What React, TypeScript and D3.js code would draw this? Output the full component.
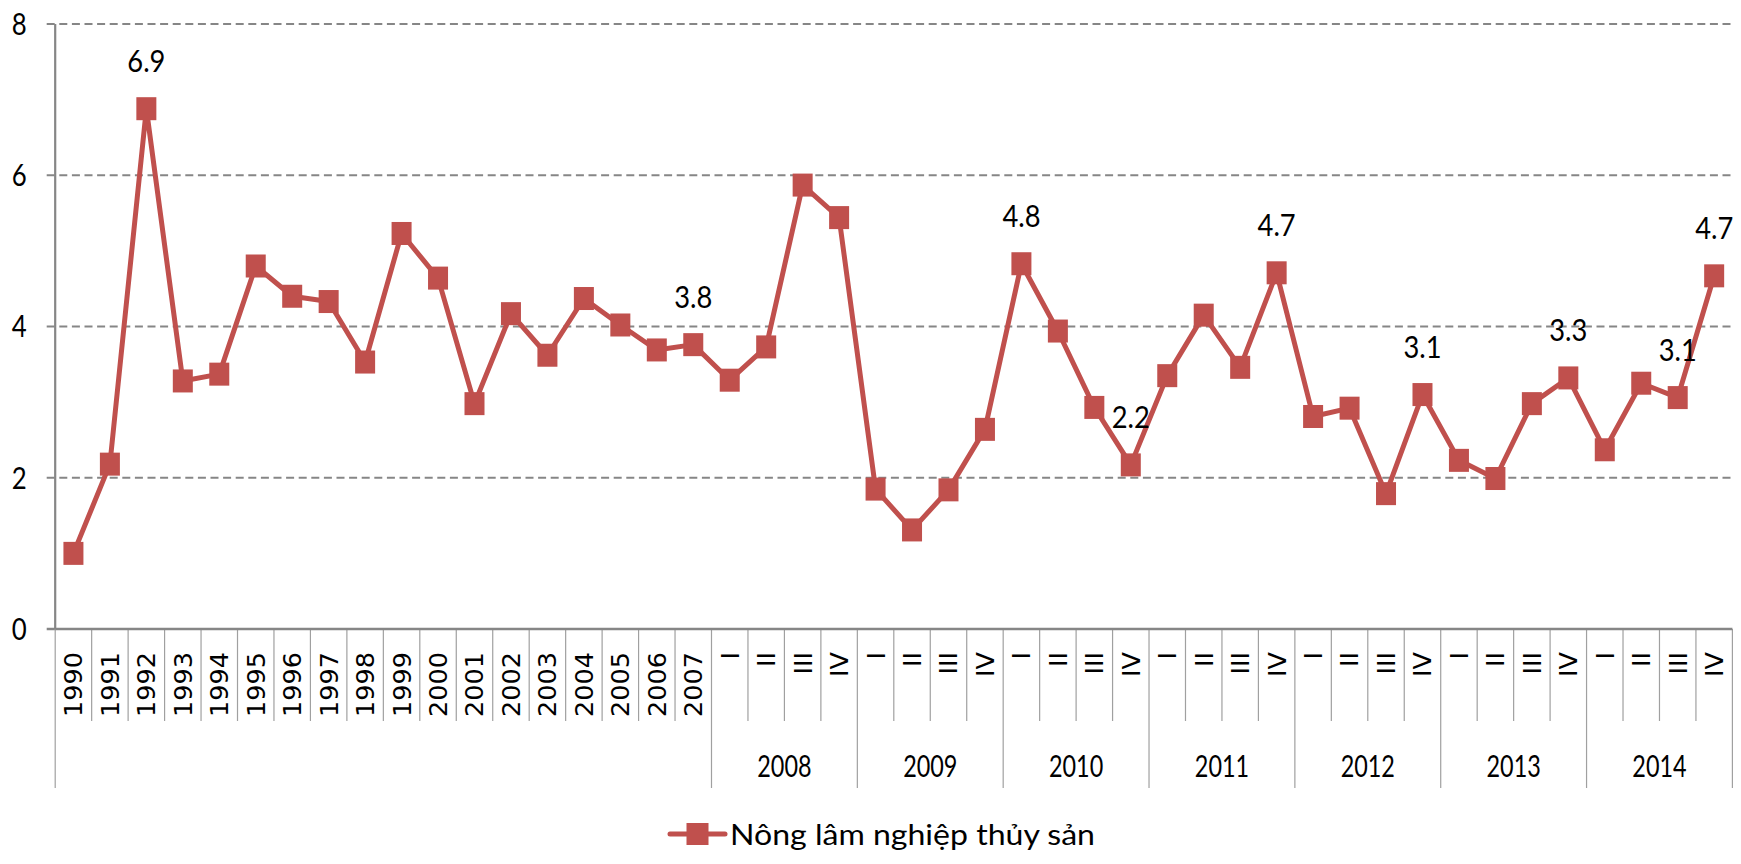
import React from 'react';
import * as d3 from 'd3';

const annualYears = ['1990','1991','1992','1993','1994','1995','1996','1997','1998','1999','2000','2001','2002','2003','2004','2005','2006','2007'];
const quarterYears = ['2008','2009','2010','2011','2012','2013','2014'];
const quarterNames = ['I','II','III','IV'];
const annualValues = [1.00,2.18,6.88,3.28,3.37,4.80,4.40,4.33,3.53,5.23,4.64,2.98,4.17,3.62,4.37,4.02,3.69,3.76];
const quarterlyValues = [
  3.29,3.73,5.87,5.44,
  1.85,1.31,1.84,2.64,
  4.83,3.94,2.93,2.17,
  3.35,4.15,3.46,4.71,
  2.81,2.92,1.79,3.10,
  2.23,1.99,2.98,3.32,
  2.37,3.25,3.06,4.67,
];
const labelledPoints = ['1992','2007','2010 I','2010 IV','2011 IV','2012 IV','2013 IV','2014 III','2014 IV'];
const yTicks = [0,2,4,6,8];
const seriesName = 'Nông lâm nghiệp thủy sản';

const W = 1741, H = 864;
const X0 = 55.2, X1 = 1732.4, Y0 = 629, Y8 = 24;
const COLOR = '#C0504D';
const AXIS = '#868686';
const CF = 'Lato, "Open Sans", sans-serif';

type Cat = { key: string; label: string; group: string | null; value: number };

const cats: Cat[] = [
  ...annualYears.map((y, i) => ({ key: y, label: y, group: null, value: annualValues[i] })),
  ...quarterYears.flatMap((y, yi) =>
    quarterNames.map((q, qi) => ({ key: `${y} ${q}`, label: q, group: y, value: quarterlyValues[yi * 4 + qi] }))
  ),
];

export default function App() {
  const x = d3.scaleBand<string>().domain(cats.map(c => c.key)).range([X0, X1]).padding(0);
  const y = d3.scaleLinear().domain([0, 8]).range([Y0, Y8]);
  const bw = x.bandwidth();
  const cx = (k: string) => (x(k) as number) + bw / 2;
  const line = d3.line<Cat>().x(d => cx(d.key)).y(d => y(d.value));

  const tickTop = Y0;
  const tickInner = 721;
  const tickBottom = 788;

  const boundaries: { x: number; full: boolean }[] = [];
  cats.forEach((c, i) => {
    const left = x(c.key) as number;
    const prev = i > 0 ? cats[i - 1] : null;
    const full = i === 0 || (c.group !== null && (prev === null || prev.group !== c.group));
    boundaries.push({ x: left, full });
  });
  boundaries.push({ x: X1, full: true });

  const groups = quarterYears.map(g => {
    const members = cats.filter(c => c.group === g);
    const a = x(members[0].key) as number;
    const b = (x(members[members.length - 1].key) as number) + bw;
    return { g, cx: (a + b) / 2 };
  });

  const mw = 20, mh = 23;

  return (
    <svg width={W} height={H} style={{ position: 'absolute', left: 0, top: 0, display: 'block', background: '#fff' }}>
      <rect x={0} y={0} width={W} height={H} fill="#fff" />
      {yTicks.filter(t => t > 0).map(t => (
        <line key={t} x1={46.7} x2={X1} y1={y(t)} y2={y(t)} stroke={AXIS} strokeWidth={2} strokeDasharray="8 4.6" />
      ))}
      <line x1={46.7} x2={X0} y1={y(0)} y2={y(0)} stroke={AXIS} strokeWidth={2.5} />
      <line x1={X0} x2={X0} y1={Y8} y2={Y0} stroke={AXIS} strokeWidth={2.2} />
      {yTicks.map(t => (
        <text key={t} transform={`translate(26.7,${y(t)}) scale(0.86,1)`} dy="0.36em" textAnchor="end"
          fontFamily={CF} fontSize={30} fill="#000">{t}</text>
      ))}
      {boundaries.map((b, i) => (
        <line key={i} x1={b.x} x2={b.x} y1={tickTop} y2={b.full ? tickBottom : tickInner} stroke="#A0A0A0" strokeWidth={1.2} />
      ))}
      <line x1={X0} x2={X1} y1={Y0} y2={Y0} stroke={AXIS} strokeWidth={2.5} />
      {cats.map(c => (
        <text key={c.key} transform={`translate(${cx(c.key)},652) rotate(-90)`} dy="0.35em" textAnchor="end"
          fontFamily='"DejaVu Sans", sans-serif' fontSize={25.5} fill="#000">{c.label}</text>
      ))}
      {groups.map(g => (
        <text key={g.g} transform={`translate(${g.cx},777) scale(0.78,1)`} textAnchor="middle"
          fontFamily={CF} fontSize={30} fill="#000">{g.g}</text>
      ))}
      <path d={line(cats) || ''} fill="none" stroke={COLOR} strokeWidth={5} strokeLinejoin="round" />
      {cats.map(c => (
        <rect key={c.key} x={cx(c.key) - mw / 2} y={y(c.value) - mh / 2} width={mw} height={mh} fill={COLOR} />
      ))}
      {cats.filter(c => labelledPoints.includes(c.key)).map(c => (
        <text key={c.key} transform={`translate(${cx(c.key)},${y(c.value) - 48}) scale(0.88,1)`} dy="0.36em" textAnchor="middle"
          fontFamily={CF} fontSize={31} fill="#000">{c.value.toFixed(1)}</text>
      ))}
      <line x1={670} x2={725} y1={834} y2={834} stroke={COLOR} strokeWidth={5} strokeLinecap="round" />
      <rect x={697.5 - 11} y={834 - 11} width={22} height={22} fill={COLOR} />
      <text x={730} y={845} fontFamily={CF} fontSize={28} fill="#000" textLength={365} lengthAdjust="spacingAndGlyphs">{seriesName}</text>
    </svg>
  );
}
